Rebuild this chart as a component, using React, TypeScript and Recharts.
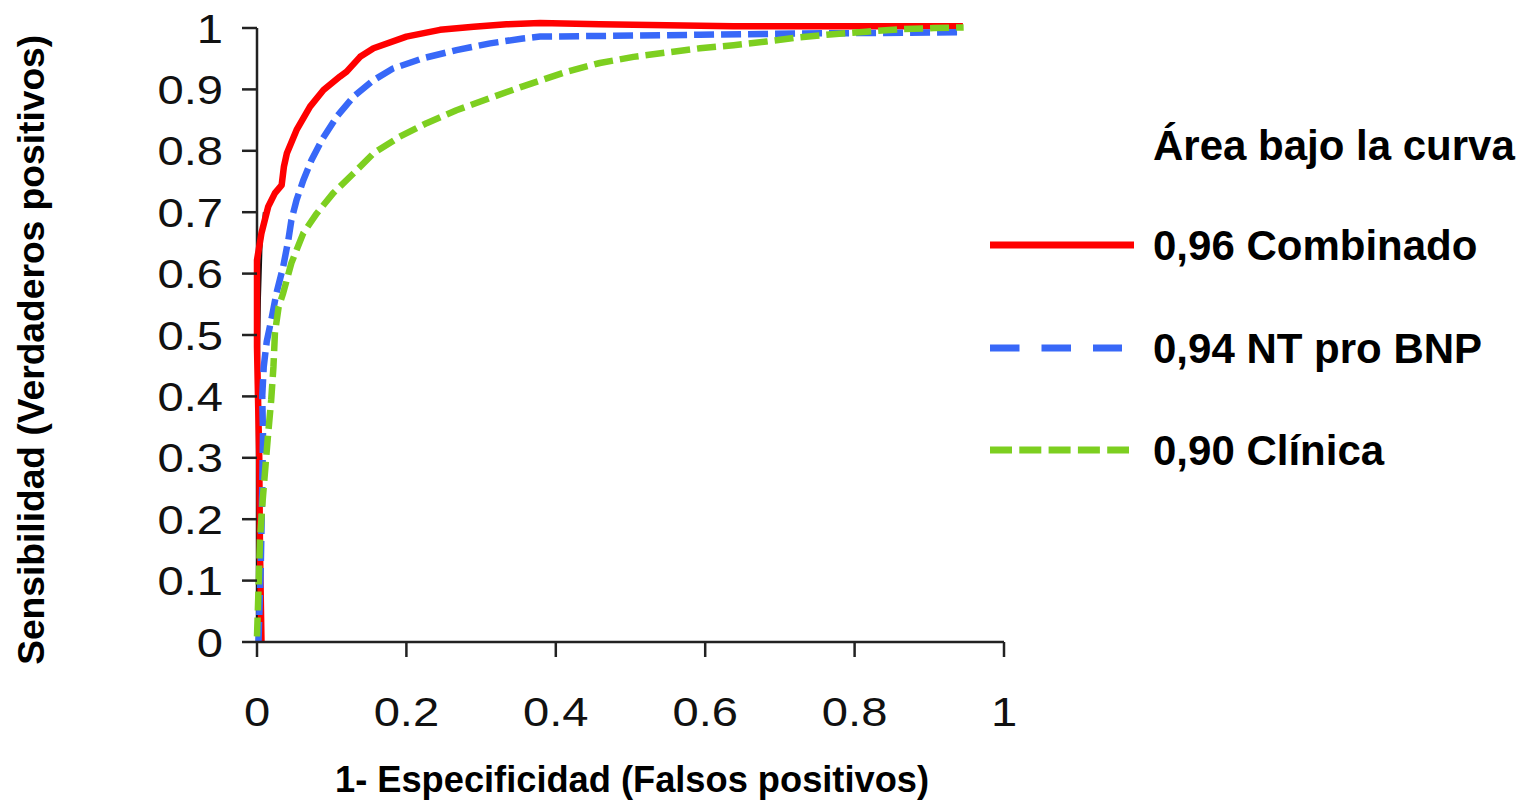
import React from 'react';
import { LineChart, Line, XAxis, YAxis, Legend, ReferenceLine } from 'recharts';

const FONT = '"Liberation Sans", Arial, Helvetica, sans-serif';

// ---- Axis ticks ----
const X_TICKS = [0, 0.2, 0.4, 0.6, 0.8, 1];
const X_TICK_LABELS = ['0', '0.2', '0.4', '0.6', '0.8', '1'];
const Y_TICKS = [0, 0.1, 0.2, 0.3, 0.4, 0.5, 0.6, 0.7, 0.8, 0.9, 1];
const Y_TICK_LABELS = ['0', '0.1', '0.2', '0.3', '0.4', '0.5', '0.6', '0.7', '0.8', '0.9', '1'];

const X_TITLE = '1- Especificidad (Falsos positivos)';
const Y_TITLE = 'Sensibilidad (Verdaderos positivos)';
const LEGEND_TITLE = 'Área bajo la curva';

// ---- Series names ----
const SERIES_NAMES = ['0,96 Combinado', '0,94 NT pro BNP', '0,90 Clínica'];

// ---- Combinado (red) ----
const RED_X = [0.006, 0.004, 0.003, 0.001, 0.0, 0.0, 0.0, 0.006, 0.015, 0.024, 0.033, 0.036, 0.040, 0.053, 0.071, 0.089, 0.111, 0.120, 0.138, 0.156, 0.200, 0.245, 0.290, 0.334, 0.379, 0.459, 0.638, 0.945];
const RED_Y = [0.0, 0.15, 0.3, 0.42, 0.481, 0.557, 0.622, 0.666, 0.709, 0.731, 0.744, 0.774, 0.796, 0.834, 0.872, 0.899, 0.921, 0.929, 0.953, 0.967, 0.986, 0.997, 1.002, 1.006, 1.008, 1.006, 1.003, 1.003];

// ---- NT pro BNP (blue) ----
const BLUE_X = [0.002, 0.005, 0.007, 0.008, 0.007, 0.009, 0.013, 0.020, 0.026, 0.035, 0.042, 0.046, 0.053, 0.062, 0.073, 0.087, 0.107, 0.129, 0.156, 0.182, 0.223, 0.267, 0.312, 0.356, 0.379, 0.459, 0.593, 0.727, 0.945];
const BLUE_Y = [0.0, 0.12, 0.25, 0.34, 0.40, 0.448, 0.489, 0.530, 0.568, 0.611, 0.655, 0.687, 0.720, 0.752, 0.785, 0.818, 0.856, 0.888, 0.915, 0.934, 0.951, 0.964, 0.975, 0.983, 0.986, 0.987, 0.989, 0.991, 0.993];

// ---- Clínica (green) ----
const GREEN_X = [0.0, 0.002, 0.004, 0.0076, 0.012, 0.015, 0.019, 0.022, 0.024, 0.029, 0.035, 0.046, 0.062, 0.080, 0.102, 0.129, 0.156, 0.191, 0.227, 0.267, 0.312, 0.356, 0.415, 0.459, 0.504, 0.548, 0.593, 0.638, 0.682, 0.727, 0.771, 0.816, 0.861, 0.906, 0.946];
const GREEN_Y = [0.009, 0.085, 0.166, 0.231, 0.296, 0.34, 0.394, 0.448, 0.503, 0.546, 0.568, 0.617, 0.666, 0.698, 0.731, 0.763, 0.796, 0.823, 0.845, 0.866, 0.886, 0.905, 0.929, 0.943, 0.953, 0.960, 0.967, 0.972, 0.978, 0.985, 0.990, 0.994, 0.998, 1.0, 1.001];

// ---- faint black curve underneath ----
const BLACK_X = [0.0, 0.001, 0.002, 0.004, 0.006, 0.009];
const BLACK_Y = [0.0, 0.2, 0.4, 0.56, 0.64, 0.7];

const toPoints = (xs: number[], ys: number[]) => xs.map((x, i) => ({ x, y: ys[i] }));

const redData = toPoints(RED_X, RED_Y);
const blueData = toPoints(BLUE_X, BLUE_Y);
const greenData = toPoints(GREEN_X, GREEN_Y);
const blackData = toPoints(BLACK_X, BLACK_Y);

const SERIES_STYLE = [
  { color: '#FF0000', dash: undefined as string | undefined, legendDash: undefined as string | undefined, legendLen: 144 },
  { color: '#3868F8', dash: '20 7', legendDash: '29.5 22', legendLen: 132 },
  { color: '#7DCF20', dash: '19 7', legendDash: '22 7.3', legendLen: 139 },
];

const AXIS_COLOR = '#222';
const SHIFT = 10; // extra room above the plot so tick text boxes stay inside the svg

const XTick = (props: any) => {
  const { x, y, payload } = props;
  const idx = X_TICKS.indexOf(payload.value);
  return (
    <text
      transform={`translate(${x},${y}) scale(1.15,1)`}
      textAnchor="middle"
      dy="0.71em"
      fontSize={41}
      fontFamily={FONT}
      fill="#111"
    >
      {idx >= 0 ? X_TICK_LABELS[idx] : String(payload.value)}
    </text>
  );
};

const YTick = (props: any) => {
  const { x, y, payload } = props;
  const idx = Y_TICKS.indexOf(payload.value);
  return (
    <text
      transform={`translate(${x},${y}) scale(1.15,1)`}
      textAnchor="end"
      dy="0.355em"
      fontSize={41}
      fontFamily={FONT}
      fill="#111"
    >
      {idx >= 0 ? Y_TICK_LABELS[idx] : String(payload.value)}
    </text>
  );
};

const YTitle = (props: any) => {
  const vb = props.viewBox || { x: 149, y: 7.72 + SHIFT, width: 100, height: 626.28 };
  const bx = vb.x - 113;
  const cy = vb.y + vb.height / 2 + 21;
  return (
    <text
      transform={`translate(${bx},${cy}) rotate(-90)`}
      textAnchor="middle"
      fontSize={37}
      fontWeight="bold"
      fontFamily={FONT}
      fill="#000"
      textLength={630}
      lengthAdjust="spacingAndGlyphs"
    >
      {Y_TITLE}
    </text>
  );
};

const XTitle = (props: any) => {
  const vb = props.viewBox || { x: 249, y: 634 + SHIFT, width: 747, height: 60 };
  const cx = vb.x + vb.width / 2 + 1.5;
  const by = vb.y + 150;
  return (
    <text
      x={cx}
      y={by}
      textAnchor="middle"
      fontSize={36}
      fontWeight="bold"
      fontFamily={FONT}
      fill="#000"
      textLength={594}
      lengthAdjust="spacingAndGlyphs"
    >
      {X_TITLE}
    </text>
  );
};

const LEGEND_ROW_Y = [237, 340, 442];

const LegendContent = () => (
  <svg width={540} height={480} style={{ display: 'block', overflow: 'visible' }}>
    <text x={163} y={152} fontSize={42} fontWeight="bold" fontFamily={FONT} fill="#000">
      {LEGEND_TITLE}
    </text>
    {SERIES_NAMES.map((name, i) => (
      <g key={name}>
        <line
          x1={0}
          x2={SERIES_STYLE[i].legendLen}
          y1={LEGEND_ROW_Y[i]}
          y2={LEGEND_ROW_Y[i]}
          stroke={SERIES_STYLE[i].color}
          strokeWidth={7}
          strokeDasharray={SERIES_STYLE[i].legendDash}
        />
        <text x={163} y={LEGEND_ROW_Y[i] + 15} fontSize={42} fontWeight="bold" fontFamily={FONT} fill="#000">
          {name}
        </text>
      </g>
    ))}
  </svg>
);

export default function App() {
  return (
    <div style={{ width: 1520, height: 798 + SHIFT, marginTop: -SHIFT, background: '#fff' }}>
      <LineChart
        width={1520}
        height={798 + SHIFT}
        margin={{ top: 7.72 + SHIFT, right: 524, bottom: 104, left: 149 }}
      >
        <XAxis
          dataKey="x"
          type="number"
          domain={[0, 1]}
          ticks={X_TICKS}
          interval={0}
          height={60}
          tickSize={15}
          tickMargin={40}
          axisLine={{ stroke: AXIS_COLOR, strokeWidth: 2.5 }}
          tickLine={{ stroke: AXIS_COLOR, strokeWidth: 2.5 }}
          tick={<XTick />}
          label={{ content: <XTitle /> }}
        />
        <YAxis
          dataKey="y"
          type="number"
          domain={[0, 1.02]}
          ticks={Y_TICKS}
          interval={0}
          width={100}
          tickSize={15}
          tickMargin={19}
          axisLine={false}
          tickLine={{ stroke: AXIS_COLOR, strokeWidth: 2.5 }}
          tick={<YTick />}
          label={{ content: <YTitle /> }}
        />
        <ReferenceLine
          segment={[{ x: 0, y: 0 }, { x: 0, y: 1 }]}
          stroke={AXIS_COLOR}
          strokeWidth={2.5}
        />
        <Legend
          layout="horizontal"
          verticalAlign="middle"
          align="center"
          content={<LegendContent />}
          wrapperStyle={{ position: 'absolute', left: 982, top: SHIFT, width: 540, height: 480 }}
        />
        <Line
          data={blackData}
          dataKey="y"
          name="curva"
          type="linear"
          stroke="#111"
          strokeWidth={2}
          dot={false}
          activeDot={false}
          legendType="none"
          isAnimationActive={false}
        />
        <Line
          data={redData}
          dataKey="y"
          name={SERIES_NAMES[0]}
          type="linear"
          stroke={SERIES_STYLE[0].color}
          strokeWidth={6.5}
          strokeLinejoin="round"
          dot={false}
          activeDot={false}
          isAnimationActive={false}
        />
        <Line
          data={blueData}
          dataKey="y"
          name={SERIES_NAMES[1]}
          type="linear"
          stroke={SERIES_STYLE[1].color}
          strokeWidth={6.5}
          strokeDasharray={SERIES_STYLE[1].dash}
          strokeLinejoin="round"
          dot={false}
          activeDot={false}
          isAnimationActive={false}
        />
        <Line
          data={greenData}
          dataKey="y"
          name={SERIES_NAMES[2]}
          type="linear"
          stroke={SERIES_STYLE[2].color}
          strokeWidth={6.5}
          strokeDasharray={SERIES_STYLE[2].dash}
          strokeLinejoin="round"
          dot={false}
          activeDot={false}
          isAnimationActive={false}
        />
      </LineChart>
    </div>
  );
}
